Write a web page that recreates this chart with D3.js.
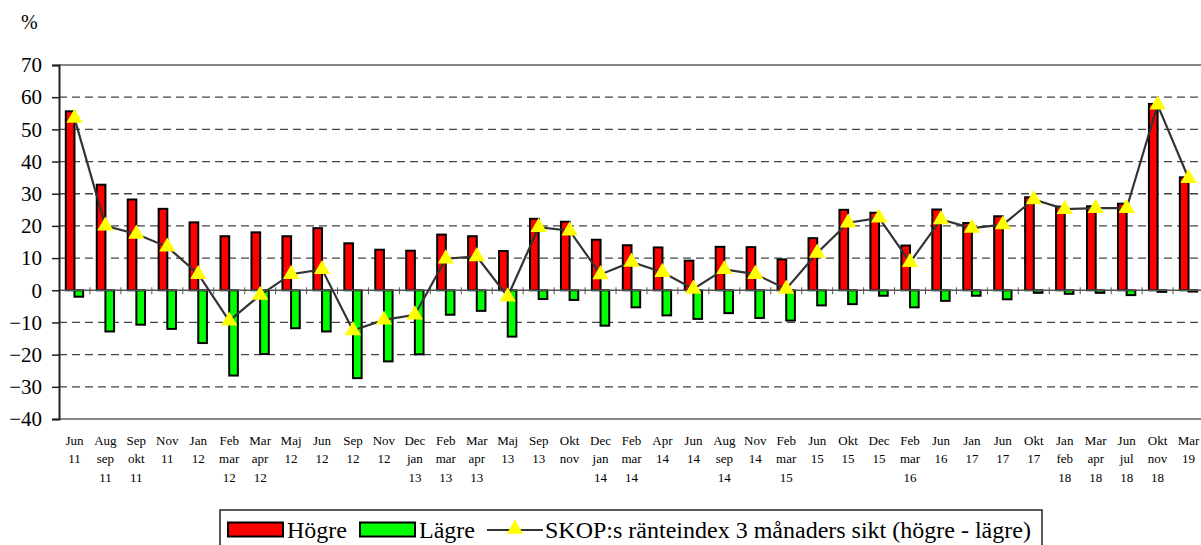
<!DOCTYPE html>
<html>
<head>
<meta charset="utf-8">
<script src="https://cdn.jsdelivr.net/npm/d3@7"></script>
<style>
  body { margin: 0; background: #fff; }
  svg { display: block; }
  svg text { font-family: "Liberation Serif", "Times New Roman", serif; }
</style>
</head>
<body>
<svg id="chart" width="1201" height="545"></svg>
<script>
// categories (survey periods), split on spaces into label rows
var cats = ["Jun 11","Aug sep 11","Sep okt 11","Nov 11","Jan 12","Feb mar 12","Mar apr 12","Maj 12","Jun 12",
  "Sep 12","Nov 12","Dec jan 13","Feb mar 13","Mar apr 13","Maj 13","Sep 13","Okt nov","Dec jan 14","Feb mar 14",
  "Apr 14","Jun 14","Aug sep 14","Nov 14","Feb mar 15","Jun 15","Okt 15","Dec 15","Feb mar 16","Jun 16","Jan 17",
  "Jun 17","Okt 17","Jan feb 18","Mar apr 18","Jun jul 18","Okt nov 18","Mar 19"];

var hogre = [55.6,32.8,28.2,25.3,21.1,16.8,18,16.8,19.3,14.6,12.6,12.3,17.3,16.8,12.2,22.2,21.3,15.7,14,13.3,9.2,
  13.5,13.4,9.6,16.2,25,24.1,13.9,25.1,20.9,23,28.9,26,26.1,26.9,57.9,35.1];

var lagre = [-2,-12.8,-10.7,-12,-16.4,-26.5,-19.8,-11.8,-12.8,-27.3,-22.1,-19.9,-7.6,-6.4,-14.4,-2.7,-3,-11,-5.3,
  -7.8,-8.9,-7.1,-8.6,-9.4,-4.7,-4.3,-1.7,-5.3,-3.3,-1.7,-2.8,-0.8,-1.1,-0.8,-1.5,-0.5,-0.4];

var index = [53.5,20,17.5,13.5,5,-9.5,-1.5,5,6.5,-12.5,-9.2,-7.6,9.8,10.5,-2,19.6,18.5,4.9,8.8,5.6,0.4,6.5,5,0.4,
  11.6,21,22.5,8.7,22,19.3,20.4,28.2,25.2,25.5,25.5,57.6,34.8];

var yTicks = [-40,-30,-20,-10,0,10,20,30,40,50,60,70];

var svg = d3.select("#chart");

var x = d3.scaleBand().domain(cats).range([59, 1204]).padding(0);
var bw = x.bandwidth();
var sub = d3.scaleBand().domain(["h", "l"]).range([bw * 0.22, bw * 0.78]);
var y = d3.scaleLinear().domain([-40, 70]).range([419, 65]);

// gridlines
svg.append("g").selectAll("line")
  .data(yTicks.filter(function(d) { return d != 0 && d != 70 && d != -40; }))
  .enter().append("line")
  .attr("x1", 59).attr("x2", 1201)
  .attr("y1", function(d) { return y(d); })
  .attr("y2", function(d) { return y(d); })
  .attr("stroke", "#444").attr("stroke-width", 1.3)
  .attr("stroke-dasharray", "8,5");

// top and bottom frame
svg.append("g").selectAll("line")
  .data([70, -40])
  .enter().append("line")
  .attr("x1", 59).attr("x2", 1201)
  .attr("y1", function(d) { return y(d); })
  .attr("y2", function(d) { return y(d); })
  .attr("stroke", "#888").attr("stroke-width", 2);

// bars
var groups = svg.append("g").selectAll("g")
  .data(cats).enter().append("g")
  .attr("transform", function(d) { return "translate(" + x(d) + ",0)"; });

groups.append("rect")
  .attr("x", sub("h"))
  .attr("width", sub.bandwidth())
  .attr("y", function(d, i) { return y(hogre[i]); })
  .attr("height", function(d, i) { return y(0) - y(hogre[i]); })
  .attr("fill", "#ff0000").attr("stroke", "#000").attr("stroke-width", 2);

groups.append("rect")
  .attr("x", sub("l"))
  .attr("width", sub.bandwidth())
  .attr("y", y(0))
  .attr("height", function(d, i) { return y(lagre[i]) - y(0); })
  .attr("fill", "#00ff00").attr("stroke", "#000").attr("stroke-width", 2);

// zero axis with ticks at category boundaries
svg.append("line")
  .attr("x1", 59).attr("x2", 1201)
  .attr("y1", y(0)).attr("y2", y(0))
  .attr("stroke", "#555").attr("stroke-width", 1.3);

svg.append("g").selectAll("line")
  .data(cats.slice(1)).enter().append("line")
  .attr("x1", function(d) { return x(d); })
  .attr("x2", function(d) { return x(d); })
  .attr("y1", y(0) - 3).attr("y2", y(0) + 4)
  .attr("stroke", "#555").attr("stroke-width", 1);

// x labels
var xl = svg.append("g").selectAll("text")
  .data(cats).enter().append("text")
  .attr("text-anchor", "middle")
  .attr("font-size", "13px")
  .attr("fill", "#000");
xl.each(function(d) {
  var t = d3.select(this);
  d.split(" ").forEach(function(part, k) {
    t.append("tspan")
      .attr("x", x(d) + bw / 2)
      .attr("y", 445 + k * 18.3)
      .text(part);
  });
});

// y axis
var yAxis = svg.append("g")
  .attr("transform", "translate(59,0)")
  .call(d3.axisLeft(y).tickValues(yTicks).tickSize(7).tickPadding(10).tickFormat(d3.format("d")));
yAxis.attr("font-family", null).attr("font-size", null);
yAxis.select(".domain").attr("stroke", "#222").attr("stroke-width", 2);
yAxis.selectAll(".tick line").attr("stroke", "#222").attr("stroke-width", 1.5);
yAxis.selectAll(".tick text")
  .style("font-family", "'Liberation Serif', 'Times New Roman', serif")
  .style("font-size", "21px").attr("fill", "#000");

svg.append("text")
  .attr("x", 21).attr("y", 29)
  .attr("font-size", "20px")
  .text("%");

// index line + triangle markers
var line = d3.line()
  .x(function(d, i) { return x(cats[i]) + bw / 2; })
  .y(function(d) { return y(d); });

svg.append("path")
  .datum(index)
  .attr("d", line)
  .attr("fill", "none").attr("stroke", "#333").attr("stroke-width", 2.2);

var tri = d3.symbol().type(d3.symbolTriangle).size(115);
svg.append("g").selectAll("path")
  .data(index).enter().append("path")
  .attr("d", tri)
  .attr("transform", function(d, i) { return "translate(" + (x(cats[i]) + bw / 2) + "," + y(d) + ")"; })
  .attr("fill", "#ffff00");

// legend
var lg = svg.append("g");
lg.append("rect")
  .attr("x", 220).attr("y", 510).attr("width", 822).attr("height", 45)
  .attr("fill", "#fff").attr("stroke", "#222").attr("stroke-width", 1.5);

lg.append("rect").attr("x", 228).attr("y", 522.5).attr("width", 55).attr("height", 14)
  .attr("fill", "#ff0000").attr("stroke", "#000").attr("stroke-width", 2);
lg.append("text").attr("x", 287).attr("y", 538).attr("font-size", "24px").text("Högre");

lg.append("rect").attr("x", 360).attr("y", 522.5).attr("width", 55).attr("height", 14)
  .attr("fill", "#00ff00").attr("stroke", "#000").attr("stroke-width", 2);
lg.append("text").attr("x", 419).attr("y", 538).attr("font-size", "24px").text("Lägre");

lg.append("line").attr("x1", 487).attr("x2", 543).attr("y1", 530).attr("y2", 530)
  .attr("stroke", "#333").attr("stroke-width", 2.2);
lg.append("path").attr("d", tri).attr("transform", "translate(515,529)").attr("fill", "#ffff00");
lg.append("text").attr("x", 545).attr("y", 538).attr("font-size", "24px")
  .text("SKOP:s ränteindex 3 månaders sikt (högre - lägre)");
</script>
</body>
</html>
